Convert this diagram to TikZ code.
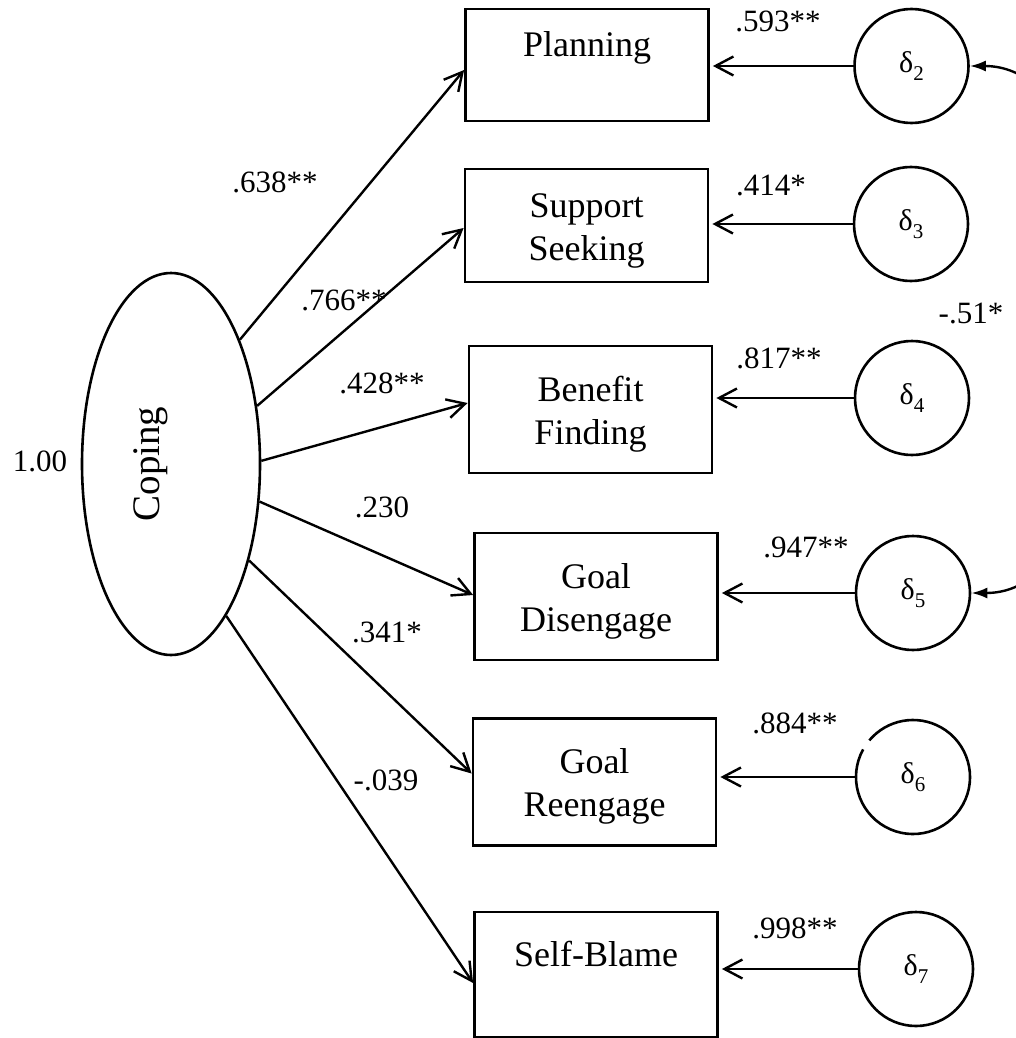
\documentclass[tikz,border=0pt]{standalone}
\usepackage{fontspec}
\setmainfont{Liberation Serif}
\usetikzlibrary{arrows.meta,shapes.geometric}

% strut that fixes the line layout inside the indicator boxes
\newcommand\bstrut{\rule[-4.25pt]{0pt}{21.5pt}}
% residual symbol with its index
\newcommand\resid[1]{δ\raisebox{-0.25em}{\fontsize{10.5}{12}\selectfont #1}}

\begin{document}
\begin{tikzpicture}[x=0.5pt,y=-0.5pt,
  obs/.style={draw,line width=1.4pt,rectangle,minimum width=121.5pt,inner sep=0pt,
    align=center,font=\fontsize{18}{21.5}\selectfont},
  err/.style={circle,draw,line width=1.3pt,minimum size=57pt,inner sep=0pt,
    font=\fontsize{15}{17}\selectfont},
  coef/.style={font=\fontsize{15.5}{18}\selectfont,inner sep=0pt},
  load/.style={line width=1.2pt,-{Straight Barb[length=9pt,width=9.5pt]}},
  cov/.style={line width=1.2pt,{Latex[length=8pt,width=5.5pt]}-{Latex[length=8pt,width=5.5pt]}}
]
\clip (0,0) rectangle (1016,1038);

% latent factor
\node[ellipse,draw,line width=1.3pt,minimum width=89pt,minimum height=191pt,inner sep=0pt]
  (coping) at (171,464) {};
\node[font=\fontsize{19.5}{23}\selectfont,rotate=90,inner sep=0pt] (copinglabel) at (151,464) {Coping};
\node[coef] (var) at (40,461) {1.00};

% indicators
\node[obs,minimum height=56pt]   (plan) at (587,65)    {\bstrut Planning\\\bstrut};
\node[obs,minimum height=56.5pt] (supp) at (586.5,225.5) {\bstrut Support\\\bstrut Seeking};
\node[obs,minimum height=63.5pt] (bene) at (590.5,409.5) {\bstrut Benefit\\\bstrut Finding};
\node[obs,minimum height=63.5pt] (dise) at (596,596.5) {\bstrut Goal\\\bstrut Disengage};
\node[obs,minimum height=63.5pt] (reen) at (594.5,782) {\bstrut Goal\\\bstrut Reengage};
\node[obs,minimum height=62.5pt] (blam) at (596,974.5) {\bstrut Self-Blame\\\bstrut};

% residuals
\node[err] (d2) at (911.5,66) {\resid{2}};
\node[err] (d3) at (911,224) {\resid{3}};
\node[err] (d4) at (912,398) {\resid{4}};
\node[err] (d5) at (913,593) {\resid{5}};
\node[err,draw=none] (d6) at (913,777) {\resid{6}};
\draw[line width=1.3pt] ([shift={(151:28.5pt)}]d6.center) arc[start angle=151,end angle=500,radius=28.5pt];
\node[err] (d7) at (916,969) {\resid{7}};

% loadings
\draw[load] (coping.61)  -- ([yshift=-2.5pt]plan.west);
\draw[load] (coping.34)  -- ([yshift=-1.25pt]supp.west);
\draw[load] (coping.2)   -- ([yshift=3.25pt]bene.west);
\draw[load] (coping.-23) -- ([yshift=0.75pt]dise.west);
\draw[load] (coping.-51) -- ([yshift=4.25pt]reen.west);
\draw[load] (coping.-70) -- ([yshift=-4.25pt]blam.west);

% residual paths
\foreach \d/\b in {d2/plan,d3/supp,d4/bene,d5/dise,d6/reen,d7/blam}
  \draw[load,shorten >=1.5pt] (\d.west) -- (\d.west -| \b.east);

% residual covariance
\draw[cov] (d2.east) .. controls ([xshift=90pt]d2.east) and ([xshift=90pt]d5.east) .. (d5.east);

% coefficients
\node[coef] (c1) at (275,182) {.638**};
\node[coef] (c2) at (344,300) {.766**};
\node[coef] (c3) at (382,383) {.428**};
\node[coef] (c4) at (382,507) {.230};
\node[coef] (c5) at (387,632) {.341*};
\node[coef] (c6) at (386,780) {-.039};
\node[coef] (e2) at (778,21)  {.593**};
\node[coef] (e3) at (771,185) {.414*};
\node[coef] (e4) at (779,358) {.817**};
\node[coef] (e5) at (806,547) {.947**};
\node[coef] (e6) at (795,723) {.884**};
\node[coef] (e7) at (795,928) {.998**};
\node[coef] (r25) at (971,313) {-.51*};
\end{tikzpicture}
\end{document}
